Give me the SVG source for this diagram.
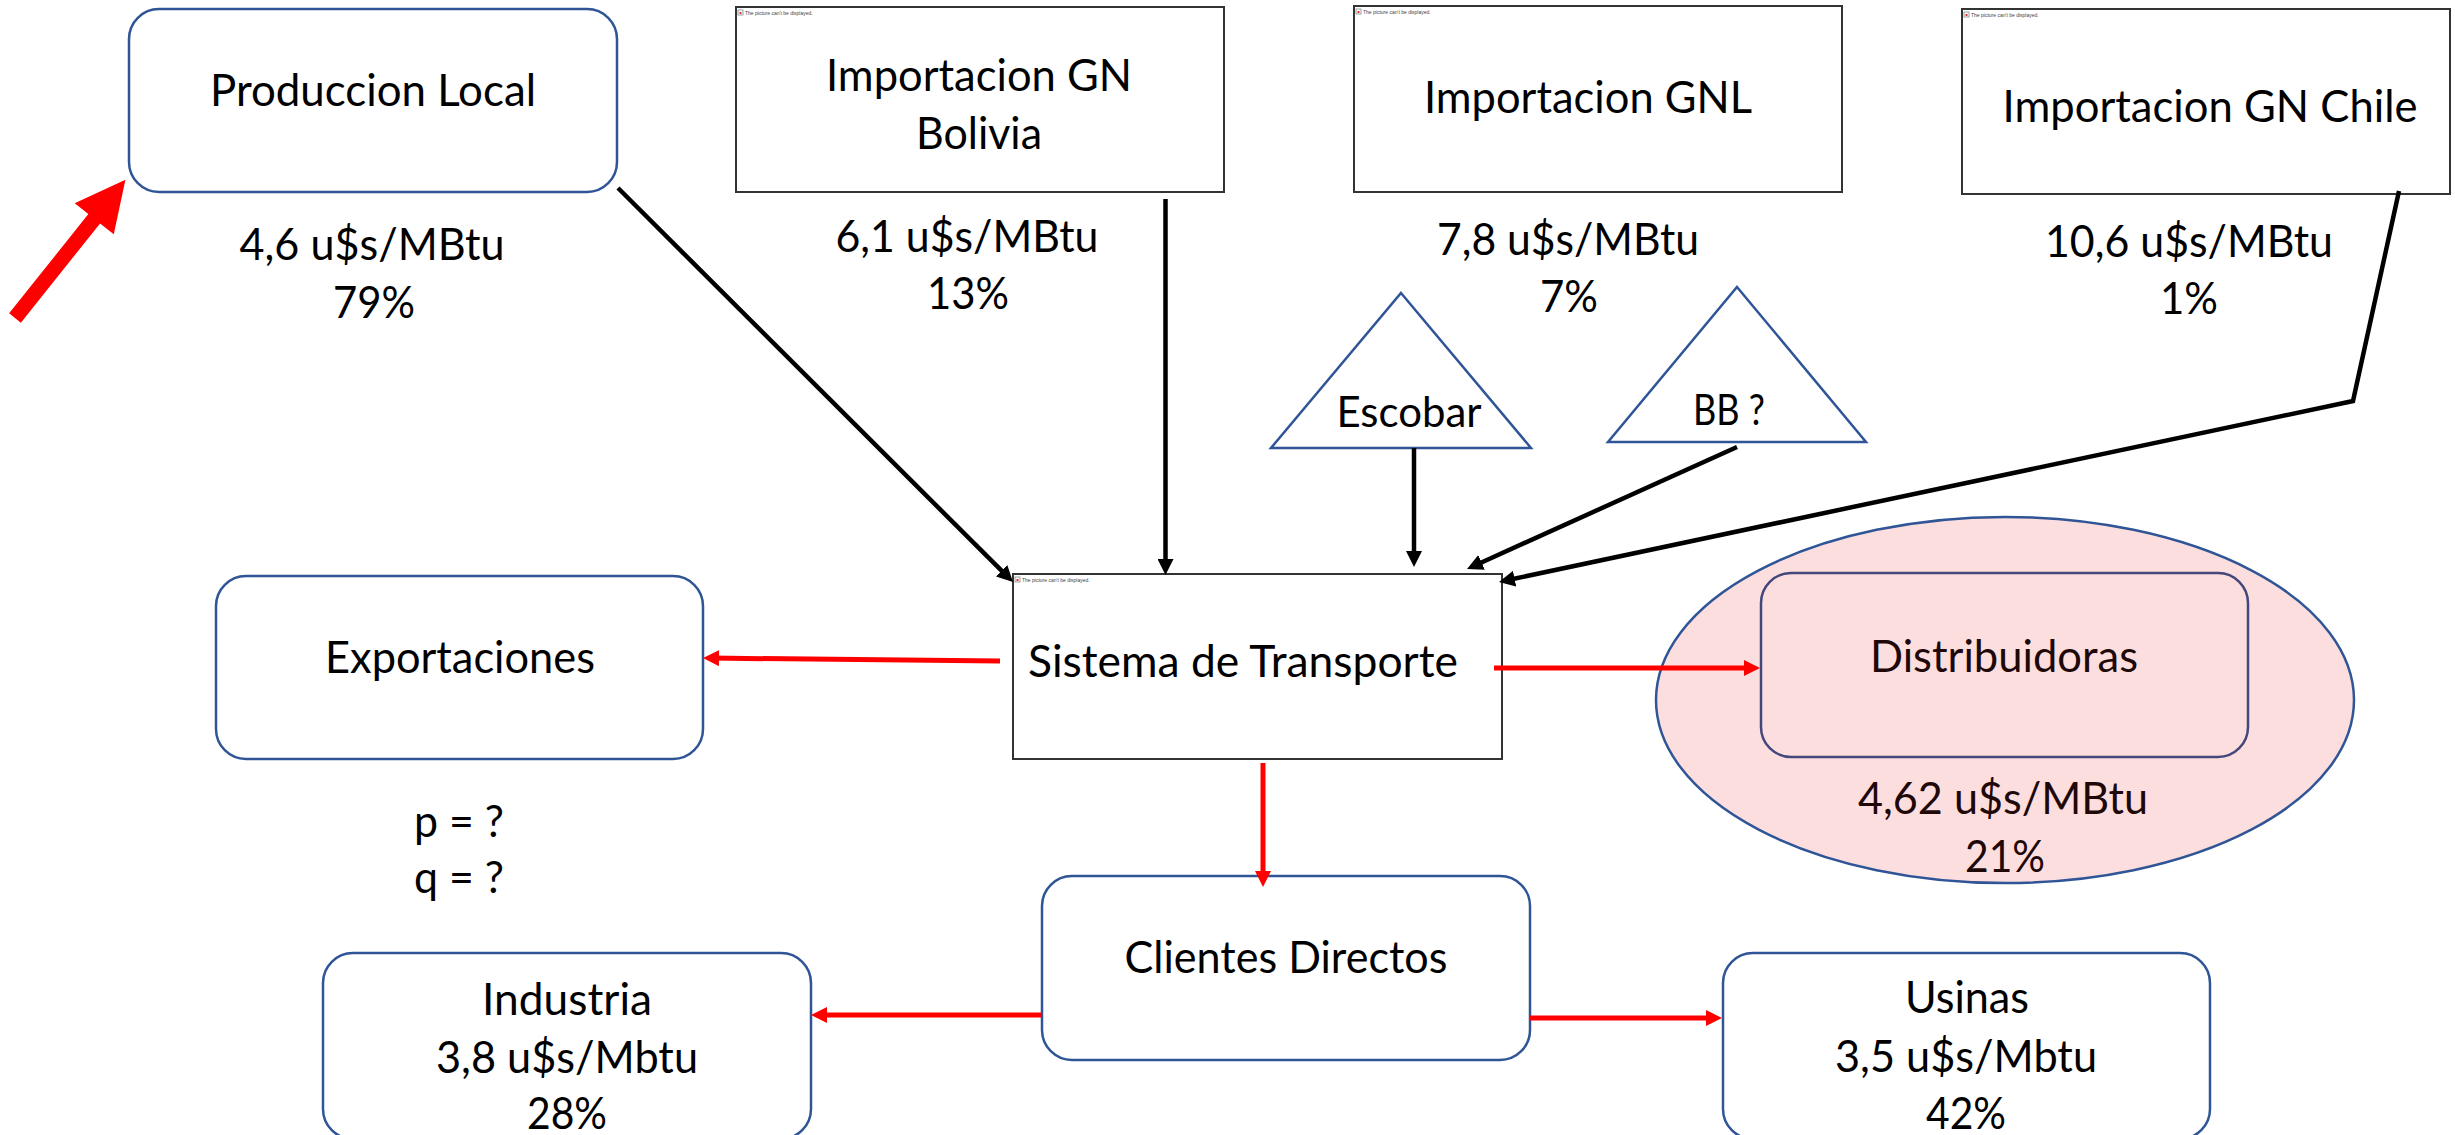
<svg xmlns="http://www.w3.org/2000/svg" width="2455" height="1135" viewBox="0 0 2455 1135">
  <defs>
    <style>
      .t { font-family: Lato, "Open Sans", "Liberation Sans", sans-serif; font-size: 44px; fill: #000; text-anchor: middle; }
      .ts { font-family: Lato, "Open Sans", "Liberation Sans", sans-serif; font-size: 42px; fill: #000; text-anchor: middle; }
      .rbox { fill: #fff; stroke: #2F5597; stroke-width: 2.5; }
      .pbox { fill: #fff; stroke: #333; stroke-width: 2; }
      .tri { fill: #fff; stroke: #2F5597; stroke-width: 2.5; }
      .blk { fill: none; stroke: #000; stroke-width: 4.5; marker-end: url(#ahBlack); }
      .red { fill: none; stroke: #FF0000; stroke-width: 5; marker-end: url(#ahRed); }
      .icontxt { font-family: "Liberation Sans", sans-serif; font-size: 5px; fill: #444; }
    </style>
    <marker id="ahBlack" markerUnits="userSpaceOnUse" viewBox="0 0 16 16" refX="8" refY="8" markerWidth="16" markerHeight="16" orient="auto">
      <path d="M0,0 L16,8 L0,16 z" fill="#000"/>
    </marker>
    <marker id="ahRed" markerUnits="userSpaceOnUse" viewBox="0 0 16 16" refX="8" refY="8" markerWidth="16" markerHeight="16" orient="auto">
      <path d="M0,0 L16,8 L0,16 z" fill="#FF0000"/>
    </marker>
    <!-- placeholder for a missing picture -->
    <g id="brokenPic">
      <rect x="0" y="0" width="5" height="5" fill="#fff" stroke="#888" stroke-width="0.8"/>
      <rect x="1.5" y="2" width="2" height="2" fill="#e03030"/>
    </g>
  </defs>

  <rect x="0" y="0" width="2455" height="1135" fill="#fff"/>

  <!-- highlight arrow pointing at local production -->
  <g id="highlight-arrow" transform="translate(15,318) rotate(-51.4)">
    <polygon points="0,-7.5 127,-7.5 127,-25 177,0 127,25 127,7.5 0,7.5" fill="#FF0000"/>
  </g>

  <!-- sources -->
  <g id="produccion-local">
    <rect class="rbox" x="129" y="9" width="488" height="183" rx="30" ry="30"/>
    <text class="t" x="373" y="106" textLength="326" lengthAdjust="spacingAndGlyphs">Produccion Local</text>
    <text class="t" x="372" y="260" textLength="265" lengthAdjust="spacingAndGlyphs">4,6 u$s/MBtu</text>
    <text class="t" x="374" y="318" textLength="82" lengthAdjust="spacingAndGlyphs">79%</text>
  </g>

  <g id="importacion-bolivia">
    <rect class="pbox" x="736" y="7" width="488" height="185"/>
    <use href="#brokenPic" x="738" y="10"/>
    <text class="icontxt" x="745" y="14.5">The picture can't be displayed.</text>
    <text class="t" x="979" y="91" textLength="306" lengthAdjust="spacingAndGlyphs">Importacion GN</text>
    <text class="t" x="979" y="149" textLength="126" lengthAdjust="spacingAndGlyphs">Bolivia</text>
    <text class="t" x="967" y="252" textLength="263" lengthAdjust="spacingAndGlyphs">6,1 u$s/MBtu</text>
    <text class="t" x="968" y="309" textLength="82" lengthAdjust="spacingAndGlyphs">13%</text>
  </g>

  <g id="importacion-gnl">
    <rect class="pbox" x="1354" y="6" width="488" height="186"/>
    <use href="#brokenPic" x="1356" y="9"/>
    <text class="icontxt" x="1363" y="13.5">The picture can't be displayed.</text>
    <text class="t" x="1588" y="113" textLength="328" lengthAdjust="spacingAndGlyphs">Importacion GNL</text>
    <text class="t" x="1568" y="255" textLength="262" lengthAdjust="spacingAndGlyphs">7,8 u$s/MBtu</text>
    <text class="t" x="1569" y="312" textLength="58" lengthAdjust="spacingAndGlyphs">7%</text>
  </g>

  <g id="importacion-chile">
    <rect class="pbox" x="1962" y="9" width="488" height="185"/>
    <use href="#brokenPic" x="1964" y="12"/>
    <text class="icontxt" x="1971" y="16.5">The picture can't be displayed.</text>
    <text class="t" x="2210" y="122" textLength="415" lengthAdjust="spacingAndGlyphs">Importacion GN Chile</text>
    <text class="t" x="2189" y="257" textLength="288" lengthAdjust="spacingAndGlyphs">10,6 u$s/MBtu</text>
    <text class="t" x="2189" y="314" textLength="58" lengthAdjust="spacingAndGlyphs">1%</text>
  </g>

  <g id="escobar">
    <polygon class="tri" points="1401,293 1531,448 1271,448"/>
    <text class="ts" x="1409" y="427" textLength="145" lengthAdjust="spacingAndGlyphs">Escobar</text>
  </g>

  <g id="bahia-blanca">
    <polygon class="tri" points="1737,287 1866,442 1608,442"/>
    <text class="ts" x="1729" y="425" textLength="72" lengthAdjust="spacingAndGlyphs">BB ?</text>
  </g>

  <!-- transport system -->
  <g id="sistema-transporte">
    <rect class="pbox" x="1013" y="574" width="489" height="185"/>
    <use href="#brokenPic" x="1015" y="577"/>
    <text class="icontxt" x="1022" y="581.5">The picture can't be displayed.</text>
    <text class="t" x="1028" y="677" style="text-anchor:start" textLength="430" lengthAdjust="spacingAndGlyphs">Sistema de Transporte</text>
  </g>

  <!-- consumers -->
  <g id="exportaciones">
    <rect class="rbox" x="216" y="576" width="487" height="183" rx="30" ry="30"/>
    <text class="t" x="460" y="673" textLength="270" lengthAdjust="spacingAndGlyphs">Exportaciones</text>
    <text class="t" x="459" y="837" textLength="90" lengthAdjust="spacingAndGlyphs">p = ?</text>
    <text class="t" x="459" y="893" textLength="90" lengthAdjust="spacingAndGlyphs">q = ?</text>
  </g>

  <g id="distribuidoras">
    <ellipse cx="2005" cy="700" rx="349" ry="183" fill="#FDDEDF" stroke="#2F5597" stroke-width="2.5"/>
    <rect x="1761" y="573" width="487" height="184" rx="30" ry="30" fill="none" stroke="#44477C" stroke-width="2.5"/>
    <text class="t" x="2004" y="672" style="fill:#1E0808" textLength="268" lengthAdjust="spacingAndGlyphs">Distribuidoras</text>
    <text class="t" x="2003" y="814" style="fill:#1E0808" textLength="290" lengthAdjust="spacingAndGlyphs">4,62 u$s/MBtu</text>
    <text class="t" x="2005" y="872" style="fill:#1E0808" textLength="80" lengthAdjust="spacingAndGlyphs">21%</text>
  </g>

  <g id="clientes-directos">
    <rect class="rbox" x="1042" y="876" width="488" height="184" rx="30" ry="30"/>
    <text class="t" x="1286" y="973" textLength="323" lengthAdjust="spacingAndGlyphs">Clientes Directos</text>
  </g>

  <g id="industria">
    <rect class="rbox" x="323" y="953" width="488" height="186" rx="30" ry="30"/>
    <text class="t" x="567" y="1015" textLength="170" lengthAdjust="spacingAndGlyphs">Industria</text>
    <text class="t" x="567" y="1073" textLength="262" lengthAdjust="spacingAndGlyphs">3,8 u$s/Mbtu</text>
    <text class="t" x="567" y="1129" textLength="80" lengthAdjust="spacingAndGlyphs">28%</text>
  </g>

  <g id="usinas">
    <rect class="rbox" x="1723" y="953" width="487" height="186" rx="30" ry="30"/>
    <text class="t" x="1967" y="1013" textLength="124" lengthAdjust="spacingAndGlyphs">Usinas</text>
    <text class="t" x="1966" y="1072" textLength="262" lengthAdjust="spacingAndGlyphs">3,5 u$s/Mbtu</text>
    <text class="t" x="1966" y="1129" textLength="80" lengthAdjust="spacingAndGlyphs">42%</text>
  </g>

  <!-- flows -->
  <g id="connectors">
    <line class="blk" x1="618" y1="188" x2="1007.3" y2="576.4"/>
    <line class="blk" x1="1165.5" y1="199" x2="1165.5" y2="567"/>
    <line class="blk" x1="1414" y1="448" x2="1414" y2="559"/>
    <line class="blk" x1="1737" y1="447" x2="1474.3" y2="565.7"/>
    <polyline class="blk" points="2399,191 2353,401 1506.8,580.3"/>
    <line class="red" x1="1000" y1="661" x2="711" y2="658.1"/>
    <line class="red" x1="1494" y1="668" x2="1752" y2="668"/>
    <line class="red" x1="1263" y1="763" x2="1263" y2="879"/>
    <line class="red" x1="1042" y1="1015" x2="819" y2="1015"/>
    <line class="red" x1="1530" y1="1018" x2="1714" y2="1018"/>
  </g>
</svg>
